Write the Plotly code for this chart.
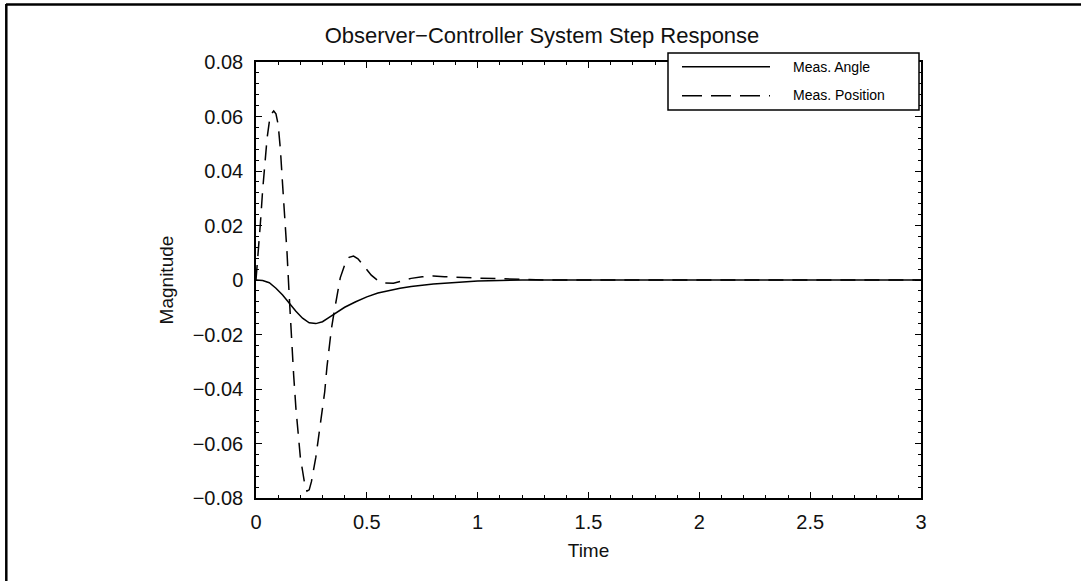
import plotly.graph_objects as go

# ---- data ----
t_angle = [0, 0.03, 0.06, 0.09, 0.12, 0.15, 0.18, 0.21, 0.24, 0.27, 0.30, 0.33, 0.36,
           0.40, 0.45, 0.50, 0.55, 0.60, 0.65, 0.70, 0.80, 0.90, 1.0, 1.1, 1.2, 1.5,
           2.0, 2.5, 3.0]
meas_angle = [0, -0.0002, -0.001, -0.003, -0.0055, -0.0085, -0.0115, -0.014, -0.0157,
              -0.0160, -0.0153, -0.0137, -0.0120, -0.0100, -0.0080, -0.0062, -0.0048,
              -0.0038, -0.0030, -0.0024, -0.0015, -0.0009, -0.0004, -0.0002, 0, 0,
              0, 0, 0]

t_pos = [0, 0.01, 0.02, 0.03, 0.04, 0.05, 0.06, 0.07, 0.08, 0.09, 0.10, 0.11, 0.12,
         0.13, 0.14, 0.15, 0.16, 0.17, 0.18, 0.19, 0.20, 0.21, 0.22, 0.23, 0.24, 0.25,
         0.26, 0.27, 0.28, 0.29, 0.30, 0.31, 0.32, 0.33, 0.34, 0.35, 0.36, 0.37, 0.38,
         0.40, 0.42, 0.44, 0.46, 0.48, 0.50, 0.52, 0.55, 0.58, 0.62, 0.66, 0.70, 0.75,
         0.80, 0.85, 0.90, 0.95, 1.0, 1.1, 1.2, 1.3, 1.5, 2.0, 2.5, 3.0]
meas_position = [0, 0.009, 0.021, 0.033, 0.044, 0.052, 0.058, 0.061, 0.062, 0.061, 0.057,
                 0.048, 0.035, 0.023, 0.010, -0.006, -0.022, -0.035, -0.047, -0.057,
                 -0.065, -0.070, -0.075, -0.0775, -0.077, -0.074, -0.070, -0.065, -0.059,
                 -0.053, -0.046, -0.041, -0.032, -0.024, -0.018, -0.013, -0.008, -0.003,
                 0.0008, 0.0055, 0.0083, 0.0088, 0.0078, 0.0058, 0.0037, 0.0018, -0.0002,
                 -0.0011, -0.0012, -0.0003, 0.0006, 0.0012, 0.0015, 0.0012, 0.0010,
                 0.0009, 0.0007, 0.0005, 0.0002, 0, 0, 0, 0, 0]

names = ["Meas. Angle", "Meas. Position"]
title_text = "Observer\u2212Controller System Step Response"

FONT = "Liberation Sans, Arial, sans-serif"

fig = go.Figure()
fig.add_trace(go.Scatter(x=t_angle, y=meas_angle, mode="lines", name=names[0],
                         line=dict(color="black", width=1.5), showlegend=False))
fig.add_trace(go.Scatter(x=t_pos, y=meas_position, mode="lines", name=names[1],
                         line=dict(color="black", width=1.5, dash="15px,9px"),
                         showlegend=False))

# paper coordinate helpers (plot area: x 256..921 px, y 62..498 px)
L, R, T, B = 256, 921, 62, 498
def px(x):
    return (x - L) / (R - L)
def py(y):
    return (B - y) / (B - T)

shapes = [
    # outer frame (top and left only)
    dict(type="line", xref="paper", yref="paper", x0=px(6), x1=px(1081), y0=py(4.5), y1=py(4.5),
         line=dict(color="black", width=2.5), layer="above"),
    dict(type="line", xref="paper", yref="paper", x0=px(6.3), x1=px(6.3), y0=py(4), y1=py(581),
         line=dict(color="black", width=2.5), layer="above"),
    # legend box
    dict(type="rect", xref="paper", yref="paper", x0=px(668), x1=px(919), y0=py(110), y1=py(53),
         line=dict(color="black", width=1.5), fillcolor="white", layer="above"),
    dict(type="line", xref="paper", yref="paper", x0=px(682), x1=px(770), y0=py(66.7), y1=py(66.7),
         line=dict(color="black", width=1.5), layer="above"),
    dict(type="line", xref="paper", yref="paper", x0=px(682), x1=px(770), y0=py(95.7), y1=py(95.7),
         line=dict(color="black", width=1.5, dash="20px,9px"), layer="above"),
]
annotations = [
    dict(text=names[0], xref="paper", yref="paper", x=px(791), y=py(67.3), xanchor="left",
         yanchor="middle", showarrow=False, font=dict(size=14, color="black", family=FONT)),
    dict(text=names[1], xref="paper", yref="paper", x=px(791), y=py(95), xanchor="left",
         yanchor="middle", showarrow=False, font=dict(size=14, color="black", family=FONT)),
]

axis_common = dict(showgrid=False, zeroline=False, showline=True, linecolor="black",
                   linewidth=1.5, mirror="ticks", ticks="inside", ticklen=6, tickwidth=1.2,
                   tickcolor="black", tickfont=dict(size=20, color="#111", family=FONT))

fig.update_layout(
    width=1081, height=581,
    margin=dict(l=L, r=1081 - R, t=T, b=581 - B),
    paper_bgcolor="white", plot_bgcolor="white",
    font=dict(family=FONT, color="black"),
    title=dict(text=title_text, x=px(542), xanchor="center", xref="paper",
               y=1 - 35 / 581, yanchor="middle", yref="container",
               font=dict(size=22, color="#111", family=FONT)),
    xaxis=dict(range=[0, 3], dtick=0.5, tick0=0,
               minor=dict(ticks="inside", ticklen=3, dtick=0.1, tickcolor="black"),
               ticklabelstandoff=5,
               title=dict(text="Time", font=dict(size=19, color="#111", family=FONT), standoff=12),
               **axis_common),
    yaxis=dict(range=[-0.08, 0.08], dtick=0.02, tick0=0,
               minor=dict(ticks="inside", ticklen=3, dtick=0.004, tickcolor="black"),
               ticklabelstandoff=7,
               title=dict(text="Magnitude", font=dict(size=19, color="#111", family=FONT), standoff=14),
               **axis_common),
    shapes=shapes,
    annotations=annotations,
)

fig.write_html("out.html")
